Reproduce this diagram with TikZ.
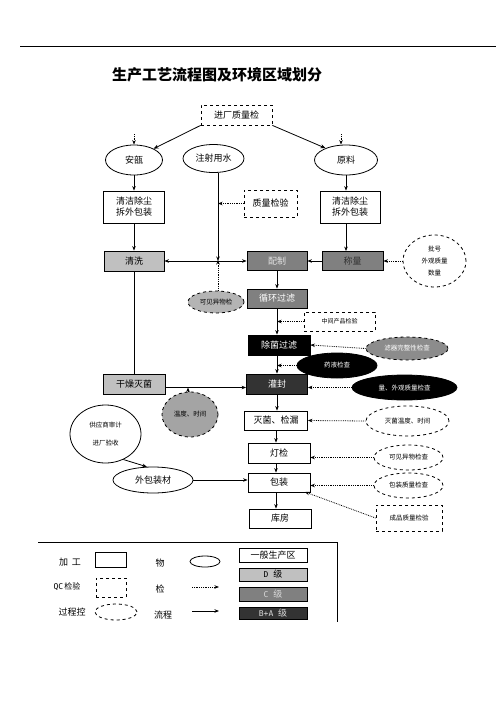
\documentclass[tikz,border=0pt]{standalone}
\usepackage{fontspec}
\setmainfont{Liberation Serif}
\newfontfamily\cjk{Noto Sans CJK SC}
\usetikzlibrary{shapes.geometric,arrows.meta}
\definecolor{dgray}{HTML}{C0C0C0}
\definecolor{cgray}{HTML}{808080}
\definecolor{bgray}{HTML}{333333}
\definecolor{egray}{HTML}{B4B4B4}
\definecolor{tgray}{HTML}{A4A4A4}
\definecolor{fgray}{HTML}{8C8C8C}
\tikzset{
  base/.style={inner sep=0pt, line width=0.8pt, align=center, font=\cjk\fontsize{9}{11}\selectfont},
  proc/.style={base, draw, rectangle},
  qcbox/.style={base, draw, dashed, rectangle},
  mat/.style={base, draw, ellipse},
  ctrl/.style={base, draw, dashed, ellipse},
  flow/.style={line width=0.8pt, -{Stealth[length=4.5pt,width=3.5pt]}},
  chk/.style={line width=0.8pt, densely dotted, -{Stealth[length=4.5pt,width=3.5pt]}},
}
\begin{document}
\begin{tikzpicture}[x=1pt,y=-1pt]
\path[use as bounding box, fill=white] (0,0) rectangle (496,702);
\draw[line width=0.9pt] (20,46) -- (496,46);
\node[font=\cjk\bfseries\fontsize{15}{17}\selectfont, inner sep=0pt] (title) at (217,75) {生产工艺流程图及环境区域划分};

% top row
\node[qcbox, minimum width=71pt, minimum height=20pt] (qin) at (236.5,115) {进厂质量检};
\node[mat, minimum width=57pt, minimum height=30pt] (amp) at (134,160) {安瓿};
\node[mat, minimum width=61pt, minimum height=28pt] (wat) at (213.5,158.5) {注射用水};
\node[mat, minimum width=63pt, minimum height=30pt] (raw) at (346,160) {原料};
\coordinate (ampin) at (134,134);
\coordinate (rawin) at (341,134);

\node[proc, minimum width=61pt, minimum height=32pt] (clL) at (134,207) {清洁除尘\\拆外包装};
\node[proc, minimum width=60pt, minimum height=32pt] (clR) at (350,207) {清洁除尘\\拆外包装};
\node[qcbox, minimum width=53pt, minimum height=27pt] (qc2) at (270.5,203.5) {质量检验};

% process row
\node[proc, fill=dgray, minimum width=60pt, minimum height=20pt] (wash) at (134,261) {清洗};
\node[proc, fill=cgray, text=white!90!black, minimum width=60pt, minimum height=19pt] (mix) at (277,261) {配制};
\node[proc, fill=cgray, text=black!80, minimum width=61pt, minimum height=19pt] (weigh) at (352.5,261) {称量};
\node[ctrl, minimum width=63pt, minimum height=52pt, font=\cjk\fontsize{6.5}{12}\selectfont] (wck) at (434.5,261) {批号\\外观质量\\数量};
\coordinate (wj) at (218,261);

\node[ctrl, fill=egray, minimum width=56pt, minimum height=22pt, font=\cjk\fontsize{6.5}{8}\selectfont] (vis) at (216,302) {可见异物检};
\node[proc, fill=cgray, text=white, minimum width=60pt, minimum height=19pt] (circ) at (277,298.5) {循环过滤};
\node[qcbox, minimum width=71pt, minimum height=19pt, font=\cjk\fontsize{6}{8}\selectfont] (mid) at (339.5,321.5) {中间产品检验};
\node[proc, fill=black, text=white, minimum width=62pt, minimum height=20pt] (ster) at (279,345) {除菌过滤};
\node[ctrl, fill=fgray, text=white, minimum width=82pt, minimum height=23pt, font=\cjk\fontsize{6.5}{8}\selectfont] (filt) at (407,348.5) {滤器完整性检查};
\node[mat, fill=black, text=white, minimum width=80pt, minimum height=25pt, font=\cjk\fontsize{6.5}{8}\selectfont] (liq) at (337,365.5) {药液检查};
\node[proc, fill=bgray, text=white, minimum width=61pt, minimum height=20pt] (fill) at (277,384) {灌封};
\node[mat, fill=black, text=white, minimum width=105pt, minimum height=25pt, font=\cjk\fontsize{6.5}{8}\selectfont] (vol) at (404.5,387.5) {量、外观质量检查};
\node[proc, fill=dgray, minimum width=62pt, minimum height=20pt] (dry) at (134,384) {干燥灭菌};
\coordinate (dj) at (188,387.5);
\node[ctrl, fill=tgray, minimum width=56pt, minimum height=45pt, font=\cjk\fontsize{6.5}{8}\selectfont] (temp) at (190,414.5) {温度、时间};

\node[proc, minimum width=63pt, minimum height=19pt] (sl) at (276,420.5) {灭菌、检漏};
\node[ctrl, minimum width=83pt, minimum height=30pt, font=\cjk\fontsize{6.5}{8}\selectfont] (slt) at (407.5,421) {灭菌温度、时间};
\node[mat, minimum width=71pt, minimum height=58pt, font=\cjk\fontsize{6.5}{18}\selectfont] (sup) at (105.5,434) {供应商审计\\进厂验收};
\node[proc, minimum width=62pt, minimum height=20pt] (lamp) at (279,453) {灯检};
\node[ctrl, minimum width=69pt, minimum height=25pt, font=\cjk\fontsize{6.5}{8}\selectfont] (vis2) at (408.5,457.5) {可见异物检查};
\node[proc, minimum width=62pt, minimum height=19pt] (pack) at (279,482.5) {包装};
\node[ctrl, minimum width=69pt, minimum height=25pt, font=\cjk\fontsize{6.5}{8}\selectfont] (pq) at (408.5,485.5) {包装质量检查};
\node[mat, minimum width=80pt, minimum height=26pt] (outer) at (153,480) {外包装材};
\node[qcbox, minimum width=66pt, minimum height=26pt, font=\cjk\fontsize{6.5}{8}\selectfont] (fq) at (409,518) {成品质量检验};
\node[proc, minimum width=62pt, minimum height=19pt] (store) at (280,518.5) {库房};
\coordinate (pk) at (305,492);

% connectors
\draw[line width=0.8pt, -{Stealth[length=5pt,width=4pt]}] (qin.south west) -- (amp.30);
\draw[line width=0.8pt, -{Stealth[length=5pt,width=4pt]}] (qin.south east) -- (raw.150);
\draw[chk] (ampin) -- (ampin |- amp.north);
\draw[chk] (rawin) -- (rawin |- raw.north);
\draw[flow] (amp.south) -- (clL.north);
\draw[flow] (raw.south) -- (raw.south |- clR.north);
\draw[flow] (raw.south |- clR.south) -- (raw.south |- weigh.north);
\draw[flow] (clL.south) -- (wash.north);
\draw[flow] (wat.south -| wj) -- (wj);
\draw[chk] (qc2.west) -- (qc2.west -| wj);
\draw[line width=0.8pt, {Stealth[length=4.5pt,width=3.5pt]}-{Stealth[length=4.5pt,width=3.5pt]}] (wash.east) -- (mix.west);
\draw[flow] (weigh.west) -- (mix.east);
\draw[chk] (wck.west) -- (weigh.east);
\draw[chk] (vis.north -| wj) -- ([yshift=1pt]wj);
\draw[flow] (mix.south) -- (circ.north);
\draw[flow] (circ.south) -- (circ.south |- ster.north);
\draw[chk] (mid.west) -- (mid.west -| circ);
\draw[chk] (filt.west) -- (ster.east);
\draw[flow] (fill.north |- ster.south) -- (fill.north);
\draw[chk] (liq.west) -- (liq.west -| fill);
\draw[chk] (vol.west) -- (vol.west -| fill.east);
\draw[line width=0.8pt] (wash.south) -- (dry.north);
\draw[flow] (dry.east |- dj) -- (dj -| fill.west);
\draw[chk] (temp.north -| dj) -- (dj);
\draw[flow] (fill.south) -- (fill.south |- sl.north);
\draw[chk] (slt.west) -- (sl.east);
\draw[flow] (sl.south) -- (sl.south |- lamp.north);
\draw[chk] (vis2.west) -- (vis2.west -| lamp.east);
\draw[flow] (lamp.south -| sl) -- (pack.north -| sl);
\draw[chk] (pq.west) -- (pq.west -| pack.east);
\draw[chk] (fq.west) -- (pk);
\draw[flow] (outer.east) -- (outer.east -| pack.west);
\draw[flow] (sup.-55) -- (outer.115);
\draw[flow] (pack.south -| sl) -- (store.north -| sl);

% legend
\draw[line width=0.8pt] (38,542) -- (337,542) -- (337,622);
\tikzset{lg/.style={inner sep=0pt, font=\cjk\fontsize{9}{11}\selectfont}}
\node[lg] (l1) at (70,562) {加\hspace{4pt}工};
\node[proc, minimum width=31pt, minimum height=15pt] (l1b) at (110.5,559.5) {};
\node[lg] (l2) at (67,587) {\fontspec{DejaVu Sans Mono}\fontsize{8}{10}\selectfont QC\,\cjk 检验};
\node[qcbox, minimum width=30pt, minimum height=19pt] (l2b) at (111,587.5) {};
\node[lg] (l3) at (72,612) {过程控};
\node[ctrl, minimum width=42pt, minimum height=16pt] (l3b) at (116,612) {};
\node[lg] (l4) at (160,563) {物};
\node[mat, minimum width=30pt, minimum height=11pt] (l4b) at (205,561.5) {};
\node[lg] (l5) at (160,589) {检};
\coordinate (l5a) at (192,587);
\coordinate (l5b) at (219,587);
\draw[chk] (l5a) -- (l5b);
\node[lg] (l6) at (163,615) {流程};
\coordinate (l6a) at (192,611);
\coordinate (l6b) at (219,611);
\draw[flow] (l6a) -- (l6b);
\node[proc, minimum width=68pt, minimum height=14pt] (z1) at (273,555) {一般生产区};
\node[proc, fill=dgray, minimum width=68pt, minimum height=13pt] (z2) at (273,574.5) {\fontspec{DejaVu Sans Mono}\fontsize{8}{10}\selectfont D \cjk\fontsize{9}{11}\selectfont 级};
\node[proc, fill=cgray, text=white!85!black, minimum width=68pt, minimum height=14pt] (z3) at (273,594) {\fontspec{DejaVu Sans Mono}\fontsize{8}{10}\selectfont C \cjk\fontsize{9}{11}\selectfont 级};
\node[proc, fill=bgray, text=white!85!black, minimum width=68pt, minimum height=12pt] (z4) at (273,613) {\fontspec{DejaVu Sans Mono}\fontsize{8}{10}\selectfont B+A \cjk\fontsize{9}{11}\selectfont 级};
\end{tikzpicture}
\end{document}
